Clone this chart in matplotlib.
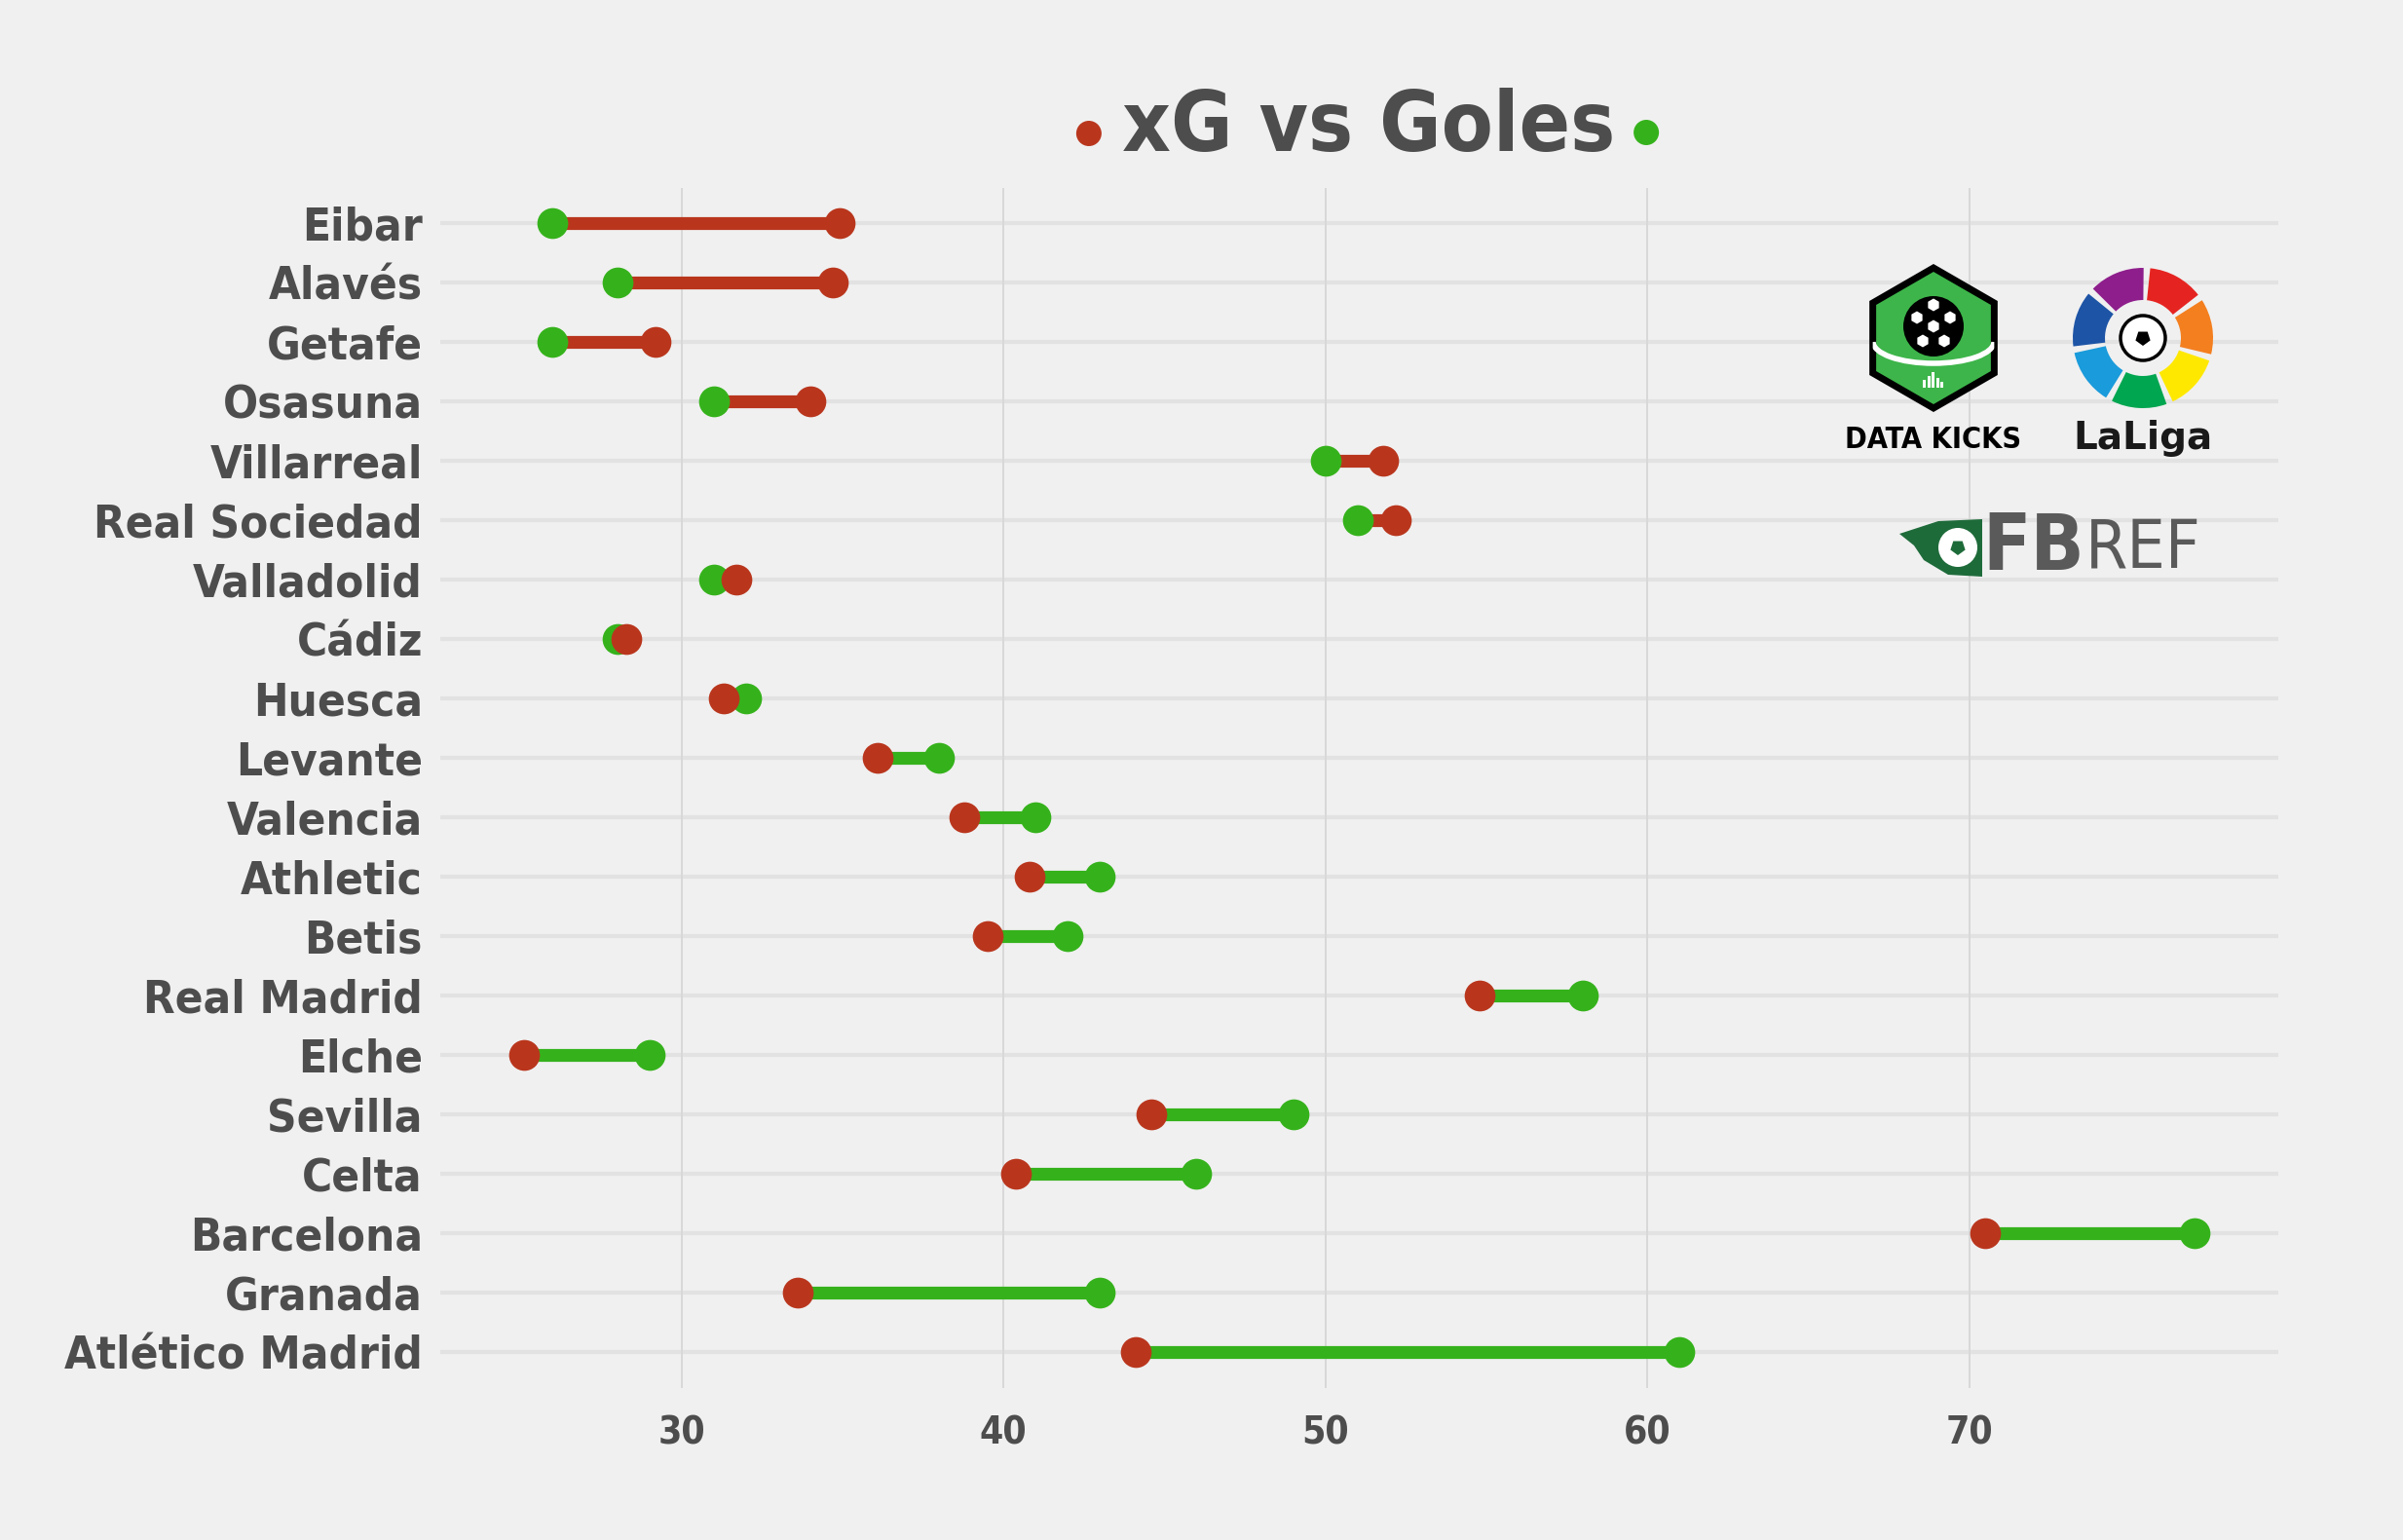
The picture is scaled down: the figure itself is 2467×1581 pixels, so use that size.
import numpy as np
import matplotlib
matplotlib.use("Agg")
import matplotlib.pyplot as plt
from matplotlib import font_manager
from matplotlib.patches import RegularPolygon, Circle, Wedge, Polygon, Arc, Rectangle

# xG vs goals, LaLiga 2020/21
teams = ["Eibar", "Alavés", "Getafe", "Osasuna", "Villarreal", "Real Sociedad",
         "Valladolid", "Cádiz", "Huesca", "Levante", "Valencia", "Athletic",
         "Betis", "Real Madrid", "Elche", "Sevilla", "Celta", "Barcelona",
         "Granada", "Atlético Madrid"]
xg = [34.9, 34.7, 29.2, 34.0, 51.8, 52.2, 31.7, 28.3, 31.3, 36.1,
      38.8, 40.8, 39.5, 54.8, 25.1, 44.6, 40.4, 70.5, 33.6, 44.1]
goles = [26, 28, 26, 31, 50, 51, 31, 28, 32, 38,
         41, 43, 42, 58, 29, 49, 46, 77, 43, 61]
x_ticks = [30, 40, 50, 60, 70]

RED = "#B9361D"
GREEN = "#35B21B"
TEXT = "#4D4D4D"
BG = "#F0F0F0"
W, H = 2467, 1581

# prefer a condensed heavy face if one is installed
installed = {f.name for f in font_manager.fontManager.ttflist}
condensed = [f for f in font_manager.fontManager.ttflist
             if f.name == 'DejaVu Sans' and 'ondensed' in f.fname and 'Bold' in f.fname]
if 'Liberation Sans Narrow' in installed:
    FAM = 'Liberation Sans Narrow'
    STRETCH = 'normal'
else:
    FAM = 'DejaVu Sans'
    STRETCH = 'condensed' if condensed else 'normal'
SCALE = 1.0 if (FAM != 'DejaVu Sans' or condensed) else 0.85

plt.rcParams['font.family'] = [FAM, 'DejaVu Sans']
plt.rcParams['font.weight'] = 'bold'
plt.rcParams['font.stretch'] = STRETCH

fig = plt.figure(figsize=(W / 100, H / 100), dpi=100, facecolor=BG)
ax = fig.add_axes([0.1832, 0.0987, 0.948 - 0.1832, 0.878 - 0.0987])
ax.set_facecolor(BG)

y = np.arange(len(teams))
xg_a = np.array(xg)
gl_a = np.array(goles)

for yi, a, b in zip(y, xg_a, gl_a):
    col = RED if a > b else GREEN
    ax.hlines(yi, min(a, b), max(a, b), color=col, lw=9.5, zorder=3)

ax.scatter(gl_a, y, s=520, color=GREEN, zorder=4, linewidths=0)
ax.scatter(xg_a, y, s=520, color=RED, zorder=5, linewidths=0)

lo = min(xg_a.min(), gl_a.min())
hi = max(xg_a.max(), gl_a.max())
pad = (hi - lo) * 0.05
ax.set_xlim(lo - pad, hi + pad)
ax.set_ylim(len(teams) - 0.4, -0.6)

ax.set_yticks(y)
ax.set_yticklabels(teams, fontsize=34 * SCALE, color=TEXT)
ax.set_xticks(x_ticks)
ax.set_xticklabels([str(t) for t in x_ticks], fontsize=28 * SCALE, color=TEXT)
ax.tick_params(axis='both', length=0)
ax.tick_params(axis='y', pad=13)
ax.tick_params(axis='x', pad=20)

for yi in y:
    ax.axhline(yi, color="#E2E2E2", lw=3, zorder=1)
for xt in x_ticks:
    ax.axvline(xt, color="#D8D8D8", lw=1.4, zorder=1)
for s in ax.spines.values():
    s.set_visible(False)

# title with coloured dots
title = fig.text(1405 / W, 1 - 131 / H, "xG vs Goles", fontsize=62 * SCALE, color=TEXT,
                 ha='center', va='center', fontweight='bold')

# overlay in pixel coordinates for title dots and logos
ov = fig.add_axes([0, 0, 1, 1], zorder=10)
ov.set_xlim(0, W)
ov.set_ylim(H, 0)
ov.axis('off')

fig.canvas.draw()
bb = title.get_window_extent()
ov.add_patch(Circle((bb.x0 - 34, 137), 13, color=RED, lw=0))
ov.add_patch(Circle((bb.x1 + 32, 136), 13, color=GREEN, lw=0))

# DATA KICKS logo
cx, cy = 1985, 347
hexa = RegularPolygon((cx, cy), 6, radius=72, orientation=0,
                      facecolor="#3DB54A", edgecolor="black", lw=5)
ov.add_patch(hexa)
pitch = Arc((cx, cy + 4), 124, 44, theta1=0, theta2=180, color="white", lw=4)
ov.add_patch(pitch)
pitch.set_clip_path(hexa)
ov.add_patch(Circle((cx, cy - 12), 31, color="black", lw=0))
for dx, dy in [(0, 0), (-17, -9), (17, -9), (-11, 15), (11, 15), (0, -22)]:
    ov.add_patch(RegularPolygon((cx + dx, cy - 12 + dy), 6, radius=6.5,
                                color="white", lw=0))
for i, hgt in enumerate([8, 12, 16, 10, 6]):
    ov.add_patch(Rectangle((cx - 11 + i * 4.5, cy + 51 - hgt), 3, hgt,
                           color="white", lw=0))
ov.text(cx, 452, "DATA KICKS", fontsize=22 * SCALE, color="black", ha='center',
        va='center', fontweight='bold')

# LaLiga logo
lx, ly = 2200, 347
colors_ring = ["#E52421", "#8E1E8C", "#1D54A6", "#1A9BDB",
               "#00A650", "#FFE800", "#F47F1F"]
start = 38
for i, c in enumerate(colors_ring):
    a0 = start + i * 51.43
    # y axis inverted -> flip angles
    ov.add_patch(Wedge((lx, ly), 72, -(a0 + 46), -a0, width=33,
                       color=c, lw=0))
ov.add_patch(Circle((lx, ly), 23, facecolor="white", edgecolor="black", lw=2.5))
ov.add_patch(RegularPolygon((lx, ly), 5, radius=8, color="black", lw=0))
ov.text(lx, 450, "LaLiga", fontsize=28, color="#1A1A1A", ha='center',
        va='center', fontweight='bold', family='DejaVu Sans', stretch='normal')

# FBREF logo
flag = Polygon([(1950, 548), (1990, 535), (2035, 533), (2035, 592),
                (2000, 590), (1975, 575), (1965, 560)],
               closed=True, color="#1E6B3A", lw=0)
ov.add_patch(flag)
ov.add_patch(Circle((2010, 562), 20, color="white", lw=0))
ov.add_patch(RegularPolygon((2010, 562), 5, radius=8, color="#1E6B3A", lw=0))
fb = ov.text(2035, 563, "FB", fontsize=58 * SCALE, color="#5A5A5A", ha='left',
             va='center', fontweight='bold')
fig.canvas.draw()
fbb = fb.get_window_extent()
ov.text(fbb.x1 + 1, 563, "REF", fontsize=50 * SCALE, color="#5A5A5A", ha='left',
        va='center', fontweight='normal')

fig.savefig("out.png", dpi=100, facecolor=BG)
